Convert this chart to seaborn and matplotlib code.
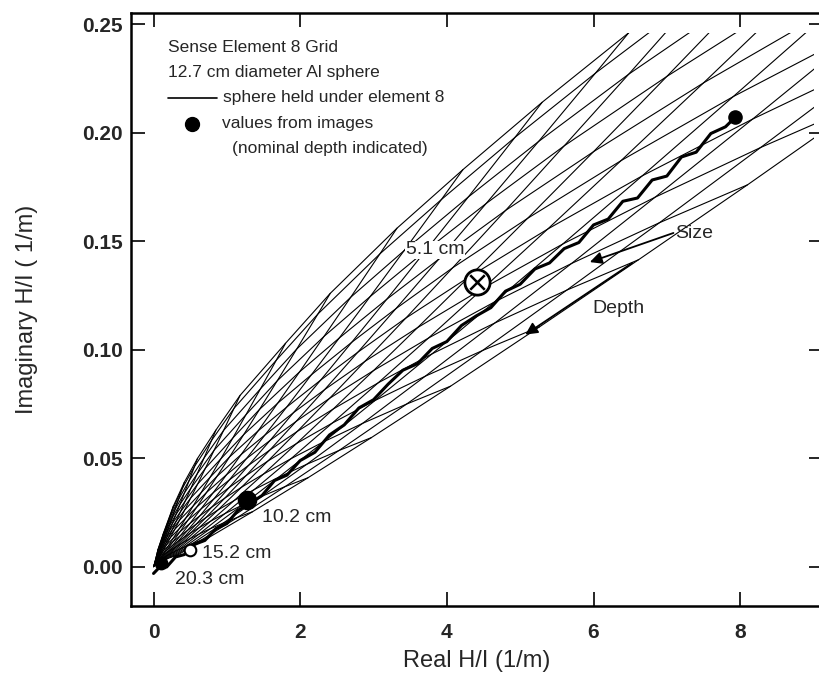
import pandas as pd
import matplotlib
matplotlib.use("Agg")
import matplotlib.pyplot as plt
from matplotlib.patches import Rectangle
import seaborn as sns

# ---------------- data ----------------
# grid: shallowest-depth response of each sphere size (upper edge of the grid)
env_real = [0.06, 0.14, 0.27, 0.42, 0.60, 0.85, 1.18, 1.80, 2.41, 3.32, 4.22, 5.30,
            6.48, 8.0, 10.0, 12.5, 15.5, 19.0, 23.0, 27.0]
env_imag = [0.008, 0.016, 0.028, 0.039, 0.050, 0.063, 0.079, 0.103, 0.126, 0.156,
            0.183, 0.214, 0.246, 0.285, 0.332, 0.387, 0.448, 0.513, 0.582, 0.646]
# how the response shrinks / rotates as the sphere goes deeper
depth_scale = [1.0, 0.93, 0.81, 0.70, 0.60, 0.51, 0.43, 0.36, 0.30, 0.245,
               0.195, 0.15, 0.11, 0.078, 0.05, 0.028, 0.012]
depth_phase = [1.0, 0.994, 0.983, 0.972, 0.960, 0.948, 0.935, 0.922, 0.908, 0.894,
               0.878, 0.859, 0.838, 0.815, 0.787, 0.752, 0.702]

# sphere held under element 8 (measured trace)
meas_real = [0.00, 0.08, 0.18, 0.30, 0.42, 0.55, 0.70, 0.85, 1.00, 1.15, 1.30, 1.48,
             1.65, 1.82, 2.00, 2.20, 2.40, 2.60, 2.80, 3.00, 3.20, 3.40, 3.60, 3.80,
             4.00, 4.20, 4.40, 4.60, 4.80, 5.00, 5.20, 5.40, 5.60, 5.80, 6.00, 6.20,
             6.40, 6.60, 6.80, 7.00, 7.20, 7.40, 7.60, 7.80, 7.93]
meas_imag = [-0.0030, -0.0002, 0.0000, 0.0046, 0.0057, 0.0103, 0.0122, 0.0176, 0.0200,
             0.0260, 0.0290, 0.0329, 0.0398, 0.0423, 0.0490, 0.0528, 0.0608, 0.0654,
             0.0732, 0.0770, 0.0842, 0.0906, 0.0936, 0.1006, 0.1038, 0.1112, 0.1156,
             0.1194, 0.1270, 0.1302, 0.1372, 0.1400, 0.1466, 0.1494, 0.1575, 0.1602,
             0.1684, 0.1699, 0.1782, 0.1800, 0.1888, 0.1910, 0.1996, 0.2027, 0.2070]

# values from images (nominal depth)
img_labels = ["5.1 cm", "10.2 cm", "15.2 cm", "20.3 cm"]
img_real = [4.41, 1.28, 0.50, 0.10]
img_imag = [0.131, 0.031, 0.008, 0.002]

# ---------------- build grid table ----------------
rows = []
for i, (ex, ey) in enumerate(zip(env_real, env_imag)):
    for j, (g, h) in enumerate(zip(depth_scale, depth_phase)):
        rows.append({"size": i, "depth": j, "real": g * ex, "imag": g * h * ey})
grid = pd.DataFrame(rows)

# ---------------- plot ----------------
sns.set_style("ticks")
plt.rcParams["font.family"] = ["Liberation Sans", "DejaVu Sans"]

fig = plt.figure(figsize=(8.2, 6.81), dpi=100)
ax = fig.add_axes([0.1598, 0.1101, 0.8439, 0.8708])

sns.lineplot(data=grid, x="real", y="imag", units="size", estimator=None, sort=False,
             color="black", lw=0.8, ax=ax)
sns.lineplot(data=grid, x="real", y="imag", units="depth", estimator=None, sort=False,
             color="black", lw=0.8, ax=ax)
# grid was only computed inside this box
clip = Rectangle((-1, -1), 10.0, 1.246, transform=ax.transData)
for ln in ax.lines:
    ln.set_clip_path(clip)

sns.lineplot(x=meas_real, y=meas_imag, sort=False, color="black", lw=2.2, ax=ax)
ax.scatter([7.93], [0.207], s=90, color="black", zorder=5)

# image values
ax.scatter(img_real[0], img_imag[0], s=330, facecolor="white", edgecolor="black", lw=2, zorder=5)
ax.scatter(img_real[0], img_imag[0], s=110, marker="x", color="black", lw=1.8, zorder=6)
ax.scatter(img_real[1], img_imag[1], s=170, color="black", zorder=5)
ax.scatter(img_real[2], img_imag[2], s=70, facecolor="white", edgecolor="black", lw=1.5, zorder=5)
ax.scatter(img_real[3], img_imag[3], s=80, color="black", zorder=5)

lab_fs = 14
ax.text(3.84, 0.146, img_labels[0], fontsize=lab_fs, ha="center", va="center",
        bbox=dict(facecolor="white", edgecolor="none", pad=0.5), zorder=4)
ax.text(1.48, 0.0226, img_labels[1], fontsize=lab_fs, ha="left", va="center")
ax.text(0.66, 0.0060, img_labels[2], fontsize=lab_fs, ha="left", va="center")
ax.text(0.29, -0.0060, img_labels[3], fontsize=lab_fs, ha="left", va="center")

# size / depth arrows
arrow = dict(arrowstyle="-|>", mutation_scale=18, lw=1.3, color="black", shrinkA=0, shrinkB=0)
ax.annotate("", xy=(5.95, 0.1404), xytext=(7.09, 0.1538), arrowprops=arrow)
ax.annotate("", xy=(5.07, 0.107), xytext=(6.53, 0.140), arrowprops=arrow)
ax.text(7.11, 0.1534, "Size", fontsize=lab_fs, ha="left", va="center")
ax.text(6.34, 0.119, "Depth", fontsize=lab_fs, ha="center", va="center")

# legend block
leg_fs = 12.5
ax.text(0.197, 0.2390, "Sense Element 8 Grid", fontsize=leg_fs, va="center")
ax.text(0.197, 0.2279, "12.7 cm diameter Al sphere", fontsize=leg_fs, va="center")
ax.plot([0.197, 0.866], [0.2160, 0.2160], color="black", lw=1.2)
ax.text(0.948, 0.2164, "sphere held under element 8", fontsize=leg_fs, va="center")
ax.scatter([0.525], [0.204], s=100, color="black", zorder=5)
ax.text(0.935, 0.2040, "values from images", fontsize=leg_fs, va="center")
ax.text(1.07, 0.1929, "(nominal depth indicated)", fontsize=leg_fs, va="center")

# axes
ax.set_xlim(-0.307, 9.13)
ax.set_ylim(-0.018, 0.2551)
ax.set_xticks([0, 2, 4, 6, 8])
ax.set_xticklabels(["0", "2", "4", "6", "8"])
ax.set_yticks([0.0, 0.05, 0.10, 0.15, 0.20, 0.25])
ax.set_yticklabels(["0.00", "0.05", "0.10", "0.15", "0.20", "0.25"])
ax.tick_params(direction="in", length=10, width=1.4, top=True, right=True,
               labelsize=15)
ax.tick_params(axis="x", pad=12)
ax.tick_params(axis="y", pad=6)
for t in ax.get_xticklabels() + ax.get_yticklabels():
    t.set_fontweight("bold")
for sp in ax.spines.values():
    sp.set_linewidth(1.8)
    sp.set_color("black")
ax.set_xlabel("Real H/I (1/m)", fontsize=17, labelpad=6)
ax.set_ylabel("Imaginary H/I ( 1/m)", fontsize=17, labelpad=32)

fig.savefig("out.png", dpi=100)
